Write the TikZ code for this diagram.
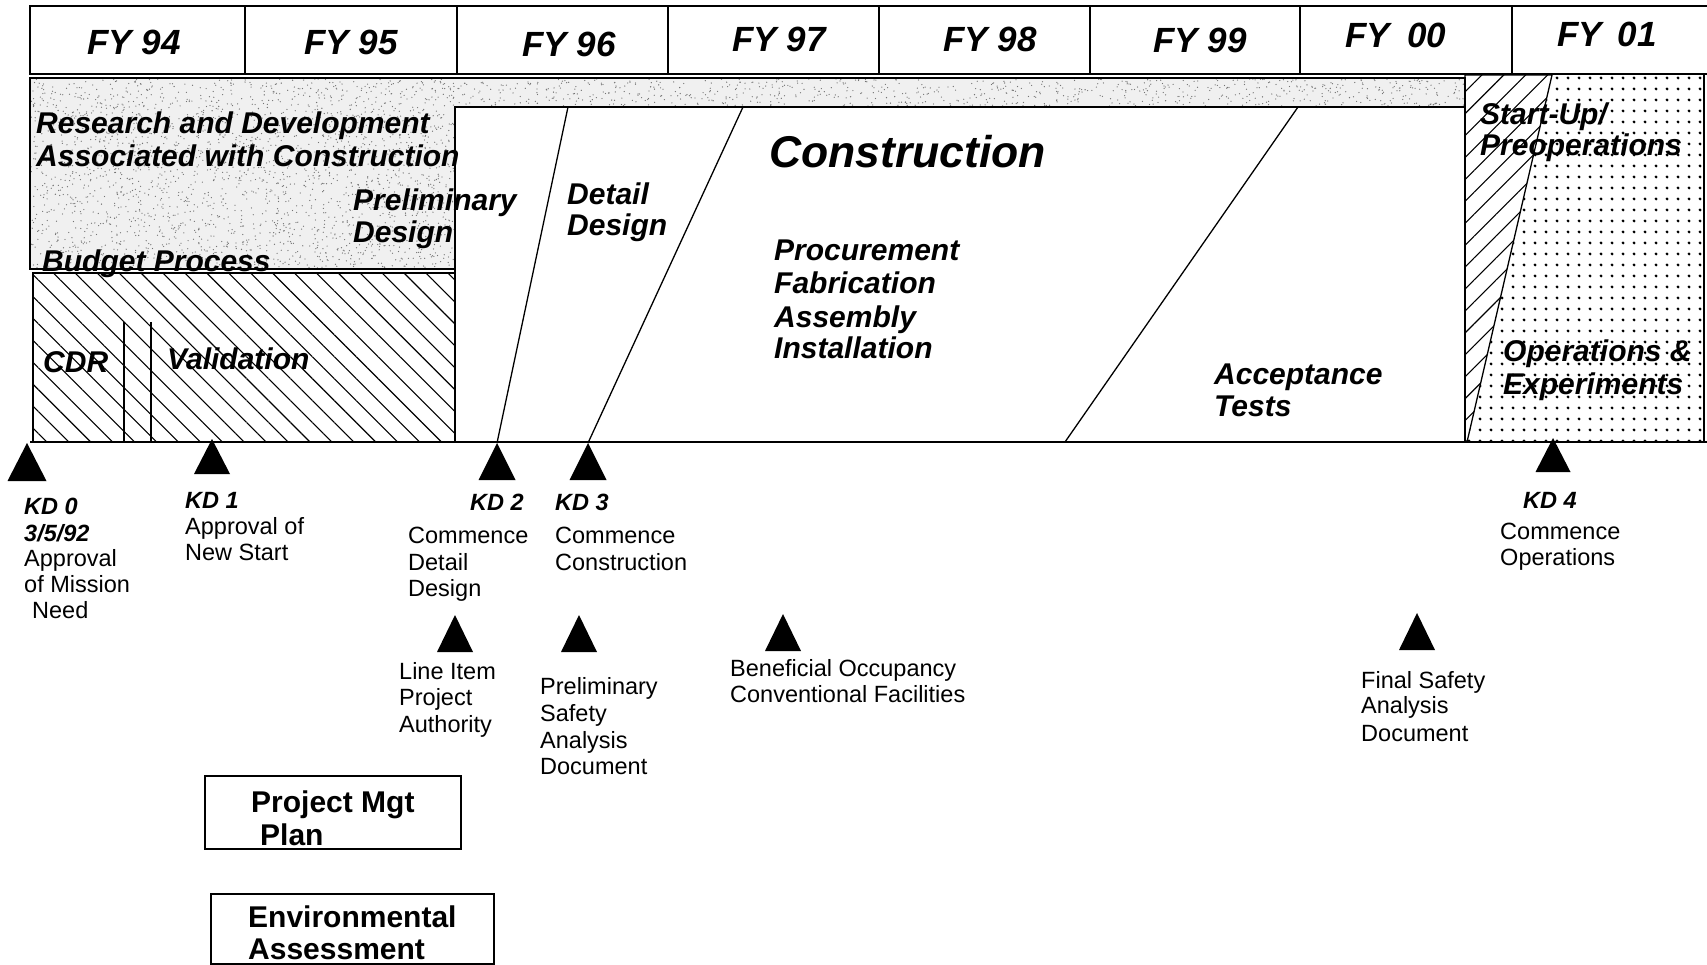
\documentclass[tikz,border=0pt]{standalone}
\usepackage{fontspec}
\setmainfont{Liberation Sans}
\usetikzlibrary{patterns.meta}
\begin{document}
\begin{tikzpicture}[x=1pt,y=-1pt,
  tx/.style={inner sep=0pt, anchor=base west},
  fy/.style={tx, font=\fontsize{35}{40}\selectfont\bfseries\itshape},
  lab/.style={tx, font=\fontsize{30}{34}\selectfont\bfseries\itshape},
  big/.style={tx, font=\fontsize{44.5}{50}\selectfont\bfseries\itshape},
  kd/.style={tx, font=\fontsize{23.5}{26}\selectfont\bfseries\itshape},
  body/.style={tx, font=\fontsize{23.5}{28}\selectfont},
  boxt/.style={tx, font=\fontsize{30}{34}\selectfont\bfseries},
  frame/.style={line width=1.6pt},
  thin/.style={line width=1.3pt},
  tri/.style={fill=black},
  speckle/.style={fill=black!6},
  speck/.style={fill=black!55},
  hatchback/.style={pattern={Lines[angle=-45,distance=15.5pt,line width=1.1pt]}},
  hatchfwd/.style={pattern={Lines[angle=45,distance=15.5pt,line width=1.1pt]}},
  dotted area/.style={pattern={Dots[distance=10.5pt,radius=1.6pt]}}
]
\useasboundingbox (0,0) rectangle (1707,965);

% ---- speckled R&D region ----
\fill[speckle] (30,78) -- (1465,78) -- (1465,107) -- (455,107) -- (455,269) -- (30,269) -- cycle;
\pgfmathsetseed{17}
\foreach \i in {1,...,2400}{
  \pgfmathsetmacro\xx{31+423*rnd}
  \pgfmathsetmacro\yy{79+189*rnd}
  \fill[speck] (\xx,\yy) circle (0.65pt);
}
\foreach \i in {1,...,800}{
  \pgfmathsetmacro\xx{456+1008*rnd}
  \pgfmathsetmacro\yy{79+27*rnd}
  \fill[speck] (\xx,\yy) circle (0.65pt);
}
\draw[frame] (30,78) -- (1465,78) -- (1465,107) -- (455,107) -- (455,269) -- (30,269) -- cycle;

% ---- hatched CDR / Validation box ----
\draw[frame, hatchback] (33,273) rectangle (455,442);
\draw[frame] (124,322) -- (124,442);
\draw[frame] (151,322) -- (151,442);

% ---- construction box ----
\draw[frame] (455,107) rectangle (1465,442);

% ---- start-up wedge and operations area ----
\path[dotted area] (1552,75) -- (1704,75) -- (1704,442) -- (1467,442) -- cycle;
\draw[thin, hatchfwd] (1465,75) -- (1552,75) -- (1467,442) -- (1465,442) -- cycle;
\draw[thin] (1704,75) -- (1704,442);

% ---- header ----
\draw[frame] (1707,6) -- (30,6) -- (30,74) -- (1707,74);
\foreach \x in {245,457,668,879,1090,1300,1512}
  \draw[thin] (\x,6) -- (\x,74);

% ---- baseline ----
\draw[frame] (30,442) -- (1707,442);

% ---- milestone coordinates ----
\coordinate (kd0) at (27,443);
\coordinate (kd1) at (212,439);
\coordinate (kd2) at (497,443);
\coordinate (kd3) at (588,443);
\coordinate (kd4) at (1553,438);
\coordinate (m1) at (455,615);
\coordinate (m2) at (579,615);
\coordinate (m3) at (783,614);
\coordinate (m4) at (1417,613);
\coordinate (d2top) at (568,107);
\coordinate (d3top) at (743,107);
\coordinate (attop) at (1298,107);
\coordinate (atbot) at (1065,442);

% ---- phase boundaries ----
\draw[thin] (d2top) -- (kd2);
\draw[thin] (d3top) -- (kd3);
\draw[thin] (attop) -- (atbot);

% ---- triangles ----
\fill[tri] (kd0) -- ++(-19.5,38) -- ++(39,0) -- cycle;
\fill[tri] (kd1) -- ++(-18,35) -- ++(36,0) -- cycle;
\fill[tri] (kd2) -- ++(-18.5,37) -- ++(37,0) -- cycle;
\fill[tri] (kd3) -- ++(-18.5,37) -- ++(37,0) -- cycle;
\fill[tri] (kd4) -- ++(-17.5,34) -- ++(35,0) -- cycle;
\foreach \m in {m1,m2,m3,m4}
  \fill[tri] (\m) -- ++(-18,37) -- ++(36,0) -- cycle;

% ---- header labels ----
\node[fy] (fy94) at (87,55) {FY 94};
\node[fy] (fy95) at (304,55) {FY 95};
\node[fy] (fy96) at (522,57) {FY 96};
\node[fy] (fy97) at (732,52) {FY 97};
\node[fy] (fy98) at (943,52) {FY 98};
\node[fy] (fy99) at (1153,53) {FY 99};
\node[fy] (fy00) at (1345,48) {FY\hspace{0.5em}00};
\node[fy] (fy01) at (1557,47) {FY\hspace{0.45em}01};

% ---- phase labels ----
\node[lab] (rd1) at (36,134) {Research and Development};
\node[lab] (rd2) at (36,167) {Associated with Construction};
\node[lab] (pd1) at (353,211) {Preliminary};
\node[lab] (pd2) at (353,243) {Design};
\node[lab] (bp) at (42,272) {Budget Process};
\node[lab] (cdr) at (43,372) {CDR};
\node[lab] (val) at (167,369) {Validation};
\node[lab] (dd1) at (567,205) {Detail};
\node[lab] (dd2) at (567,236) {Design};
\node[big] (cons) at (769,168) {Construction};
\node[lab] (pf1) at (774,261) {Procurement};
\node[lab] (pf2) at (774,294) {Fabrication};
\node[lab] (pf3) at (774,327) {Assembly};
\node[lab] (pf4) at (774,359) {Installation};
\node[lab] (at1) at (1214,384) {Acceptance};
\node[lab] (at2) at (1214,416) {Tests};
\node[lab] (su1) at (1480,125) {Start-Up/};
\node[lab] (su2) at (1480,156) {Preoperations};
\node[lab] (op1) at (1503,361) {Operations \&};
\node[lab] (op2) at (1503,394) {Experiments};

% ---- milestone labels ----
\node[kd] (k0a) at (24,514) {KD 0};
\node[kd] (k0b) at (24,541) {3/5/92};
\node[body] (k0c) at (24,566) {Approval};
\node[body] (k0d) at (24,592) {of Mission};
\node[body] (k0e) at (32,618) {Need};

\node[kd] (k1a) at (185,508) {KD 1};
\node[body] (k1b) at (185,534) {Approval of};
\node[body] (k1c) at (185,560) {New Start};

\node[kd] (k2a) at (470,510) {KD 2};
\node[body] (k2b) at (408,543) {Commence};
\node[body] (k2c) at (408,570) {Detail};
\node[body] (k2d) at (408,596) {Design};

\node[kd] (k3a) at (555,510) {KD 3};
\node[body] (k3b) at (555,543) {Commence};
\node[body] (k3c) at (555,570) {Construction};

\node[kd] (k4a) at (1523,508) {KD 4};
\node[body] (k4b) at (1500,539) {Commence};
\node[body] (k4c) at (1500,565) {Operations};

\node[body] (li1) at (399,679) {Line Item};
\node[body] (li2) at (399,705) {Project};
\node[body] (li3) at (399,732) {Authority};

\node[body] (ps1) at (540,694) {Preliminary};
\node[body] (ps2) at (540,721) {Safety};
\node[body] (ps3) at (540,748) {Analysis};
\node[body] (ps4) at (540,774) {Document};

\node[body] (bo1) at (730,676) {Beneficial Occupancy};
\node[body] (bo2) at (730,702) {Conventional Facilities};

\node[body] (fs1) at (1361,688) {Final Safety};
\node[body] (fs2) at (1361,713) {Analysis};
\node[body] (fs3) at (1361,741) {Document};

% ---- document boxes ----
\draw[frame] (205,776) rectangle (461,849);
\node[boxt] (pm1) at (251,812) {Project Mgt};
\node[boxt] (pm2) at (260,845) {Plan};

\draw[frame] (211,894) rectangle (494,964);
\node[boxt] (ea1) at (248,927) {Environmental};
\node[boxt] (ea2) at (248,959) {Assessment};
\end{tikzpicture}
\end{document}
